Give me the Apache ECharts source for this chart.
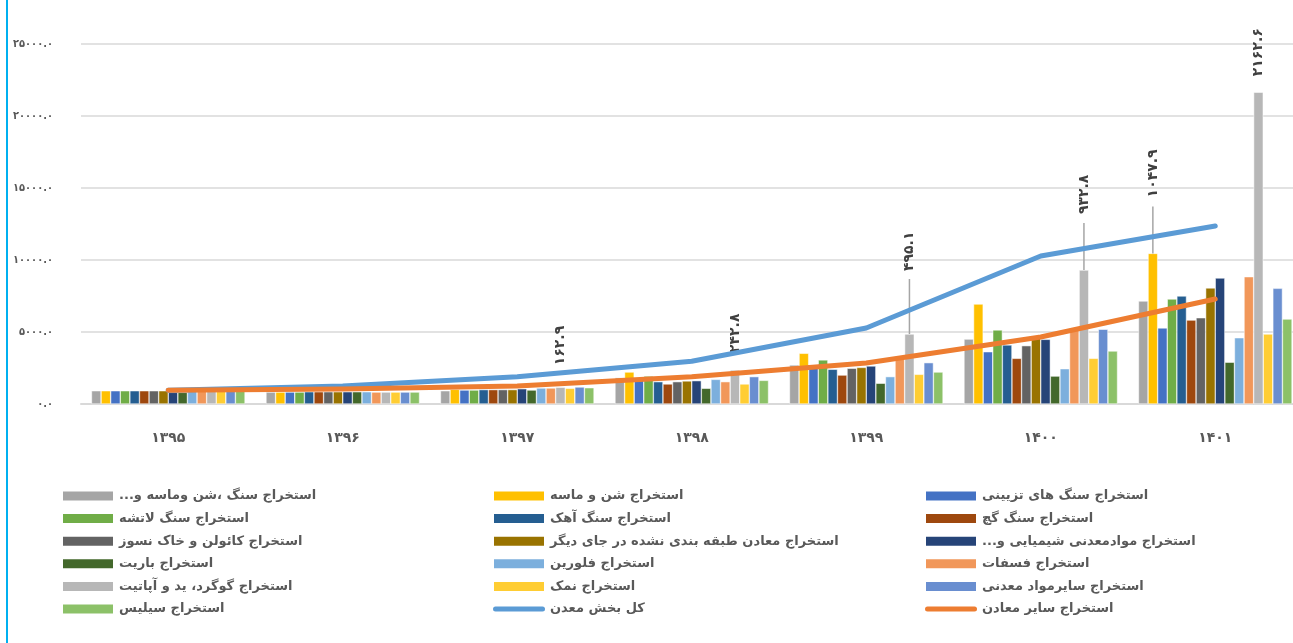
<!DOCTYPE html>
<html>
<head>
<meta charset="utf-8">
<script src="https://cdn.jsdelivr.net/npm/echarts@6/dist/echarts.min.js"></script>
<style>
  html, body { margin: 0; padding: 0; background: #fff; }
  #main { width: 1293px; height: 643px; }
</style>
</head>
<body>
<div id="main"></div>
<script>
const years = ['1395', '1396', '1397', '1398', '1399', '1400', '1401']
const yTicks = [0, 5000, 10000, 15000, 20000, 25000]

// bar series, same order as the legend (read left to right, row by row)
const stoneSandMisc = [920, 830, 920, 1830, 2710, 4510, 7150]
const sandGravel = [920, 830, 1020, 2220, 3520, 6940, 10460]
const decorativeStone = [920, 830, 970, 1700, 2500, 3630, 5280]
const rubbleStone = [920, 830, 970, 1940, 3060, 5140, 7290]
const limestone = [920, 850, 1000, 1550, 2410, 4100, 7500]
const gypsum = [920, 850, 1000, 1390, 2010, 3170, 5830]
const kaolin = [920, 850, 1000, 1550, 2480, 4050, 5990]
const unclassified = [920, 850, 1000, 1600, 2540, 4720, 8060]
const chemicalMinerals = [810, 850, 1060, 1620, 2640, 4490, 8750]
const barite = [810, 850, 970, 1090, 1440, 1940, 2900]
const fluorine = [920, 850, 1110, 1710, 1900, 2450, 4600]
const phosphate = [920, 830, 1110, 1550, 3290, 5250, 8840]
const sulfurApatite = [920, 830, 1160, 2360, 4860, 9300, 21650]
const salt = [920, 830, 1090, 1390, 2060, 3170, 4860]
const otherMinerals = [920, 830, 1180, 1900, 2870, 5190, 8030]
const silica = [920, 830, 1130, 1640, 2220, 3680, 5900]

// line series
const miningTotal = [950, 1250, 1900, 2970, 5280, 10280, 12360]
const otherMines = [950, 1040, 1250, 1900, 2850, 4650, 7290]

// callout texts on single bars
const sulfurCallouts = [null, null, '162.9', '242.8', '495.1', '932.8', '2162.6']
const sandCallouts = [null, null, null, null, null, null, '1047.9']

const barNames = [
  'استخراج سنگ ،شن وماسه و...', 'استخراج شن و ماسه', 'استخراج سنگ های تزیینی',
  'استخراج سنگ لاتشه', 'استخراج سنگ آهک', 'استخراج سنگ گچ',
  'استخراج کائولن و خاک نسوز', 'استخراج معادن طبقه بندی نشده در جای دیگر', 'استخراج موادمعدنی شیمیایی و...',
  'استخراج باریت', 'استخراج فلورین', 'استخراج فسفات',
  'استخراج گوگرد، ید و آپاتیت', 'استخراج نمک', 'استخراج سایرمواد معدنی',
  'استخراج سیلیس'
]
const barValues = [
  stoneSandMisc, sandGravel, decorativeStone, rubbleStone, limestone, gypsum,
  kaolin, unclassified, chemicalMinerals, barite, fluorine, phosphate,
  sulfurApatite, salt, otherMinerals, silica
]
const barColors = [
  '#A5A5A5', '#FFC000', '#4472C4', '#70AD47', '#255E91', '#9E480E',
  '#636363', '#997300', '#264478', '#43682B', '#7CAFDD', '#F1975A',
  '#B7B7B7', '#FFCD33', '#698ED0', '#8CC168'
]
const lineNames = ['کل بخش معدن', 'استخراج سایر معادن']
const lineColors = ['#5B9BD5', '#ED7D31']

const FONT = 'DejaVu Sans'
const fa = s => String(s).replace(/\d/g, d => '۰۱۲۳۴۵۶۷۸۹'[d])

// callout leader length and gap to text (px), per year
const sulfurLeader = [0, 0, 0, 0, 55, 47, 0]
const sulfurGap = [0, 0, 22, 17, 8, 9, 16]
const sandLeader = [0, 0, 0, 0, 0, 0, 47]
const sandGap = [0, 0, 0, 0, 0, 0, 9]

function calloutData(values, texts, leader, gap) {
  return values.map((v, i) => {
    if (!texts[i]) return v
    const parts = (leader[i] ? '{ln| }' : '') + '{txt|' + fa(texts[i]) + '}'
    return {
      value: v,
      label: {
        show: true,
        position: 'top',
        distance: 0,
        rotate: 90,
        align: 'left',
        verticalAlign: 'middle',
        formatter: parts,
        rich: {
          ln: { width: leader[i], height: 1.5, backgroundColor: '#A5A5A5', verticalAlign: 'middle', fontSize: 2, lineHeight: 2 },
          txt: {
            padding: [0, 0, 0, gap[i]],
            verticalAlign: 'middle',
            color: '#404040',
            fontFamily: FONT,
            fontWeight: 'bold',
            fontSize: 14
          }
        }
      }
    }
  })
}

const myChart = echarts.init(document.getElementById('main'))
const seriesList = []
barValues.forEach((vals, k) => {
  let data = vals
  if (k === 12) data = calloutData(vals, sulfurCallouts, sulfurLeader, sulfurGap)
  if (k === 1) data = calloutData(vals, sandCallouts, sandLeader, sandGap)
  seriesList.push({
    name: barNames[k],
    type: 'bar',
    data: data,
    barGap: '0%',
    barCategoryGap: '12%',
    itemStyle: { color: barColors[k], borderColor: '#fff', borderWidth: 0.5 }
  })
})
;[miningTotal, otherMines].forEach((vals, k) => {
  seriesList.push({
    name: lineNames[k],
    type: 'line',
    data: vals,
    symbol: 'none',
    z: 5 + k,
    lineStyle: { color: lineColors[k], width: 5, cap: 'round', join: 'round' },
    itemStyle: { color: lineColors[k] }
  })
})

const lineIcon = 'path://M2.5,0 L49.5,0 A2.5,2.5 0 0 1 49.5,5 L2.5,5 A2.5,2.5 0 0 1 2.5,0 Z'
const allNames = barNames.concat(lineNames)
function legendColumn(col, left) {
  const names = allNames.filter((n, i) => i % 3 === col)
  return {
    orient: 'vertical',
    left: left,
    top: 489,
    padding: 0,
    itemWidth: 52,
    itemHeight: 11,
    itemGap: 8.6,
    symbolKeepAspect: true,
    data: names.map(n => (lineNames.includes(n) ? { name: n, icon: lineIcon } : { name: n, icon: 'rect' })),
    formatter: n => n + '\u200F',
    textStyle: { color: '#595959', fontFamily: FONT, fontWeight: 'bold', fontSize: 13, lineHeight: 14 },
    selectedMode: false
  }
}

const option = {
  animation: false,
  textStyle: { fontFamily: FONT },
  legend: [legendColumn(0, 61), legendColumn(1, 492), legendColumn(2, 924)],
  grid: { left: 81, width: 1221.5, top: 44, height: 360, outerBoundsMode: 'none', containLabel: false },
  xAxis: {
    type: 'category',
    data: years,
    axisLine: { show: true, lineStyle: { color: '#D9D9D9', width: 2 } },
    axisTick: { show: false },
    axisLabel: {
      margin: 27,
      color: '#595959',
      fontFamily: FONT,
      fontWeight: 'bold',
      fontSize: 14,
      formatter: v => fa(v)
    }
  },
  yAxis: {
    type: 'value',
    min: yTicks[0],
    max: yTicks[yTicks.length - 1],
    interval: yTicks[1] - yTicks[0],
    axisLine: { show: false },
    axisTick: { show: false },
    splitLine: { lineStyle: { color: '#D9D9D9', width: 1.5 } },
    axisLabel: {
      margin: 28,
      color: '#595959',
      fontFamily: 'DejaVu Sans Condensed',
      fontWeight: 'bold',
      fontSize: 11,
      formatter: v => fa(v.toFixed(1))
    }
  },
  graphic: [{
    type: 'line',
    shape: { x1: 7, y1: 0, x2: 7, y2: 643 },
    style: { stroke: '#00B0F0', lineWidth: 2 }
  }],
  series: seriesList
}
myChart.setOption(option)
</script>
</body>
</html>
